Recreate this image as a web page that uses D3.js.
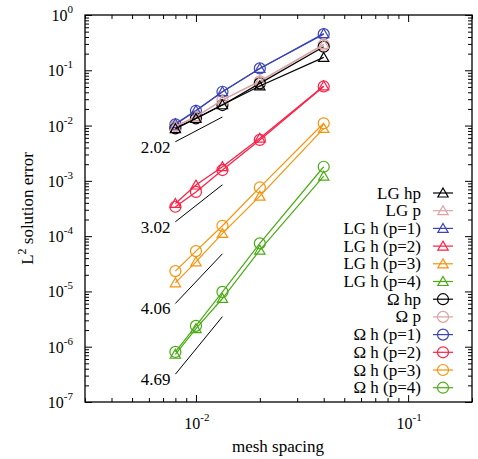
<!DOCTYPE html>
<html>
<head>
<meta charset="utf-8">
<script src="https://cdn.jsdelivr.net/npm/d3@7"></script>
<style>
  body{ margin:0; background:#fff }
  svg{ display:block; font-family:"Liberation Serif","Times New Roman",serif }
  .domain{ stroke:#000 }
</style>
</head>
<body>
<svg id="chart" width="478" height="459"></svg>
<script>
// mesh spacings (1/125 .. 1/25)
const meshH = [0.008, 0.01, 0.013333, 0.02, 0.04]

// L2 errors, one array per series
const lgHp   = [0.0088, 0.0134, 0.0238, 0.052, 0.171]
const lgP    = [0.0097, 0.0145, 0.029, 0.064, 0.295]
const lgH1   = [0.0108, 0.0188, 0.041, 0.108, 0.46]
const lgH2   = [3.9e-4, 8.4e-4, 1.8e-3, 5.9e-3, 0.052]
const lgH3   = [1.43e-5, 3.43e-5, 1.12e-4, 5.3e-4, 8.9e-3]
const lgH4   = [7.3e-7, 2.13e-6, 7.45e-6, 5.6e-5, 1.22e-3]
const omHp   = [0.0089, 0.0135, 0.0235, 0.058, 0.267]
const omP    = [0.0097, 0.0145, 0.029, 0.063, 0.29]
const omH1   = [0.0105, 0.0185, 0.0409, 0.108, 0.45]
const omH2   = [3.4e-4, 6.3e-4, 1.57e-3, 5.5e-3, 0.051]
const omH3   = [2.33e-5, 5.36e-5, 1.54e-4, 7.6e-4, 0.011]
const omH4   = [8.05e-7, 2.38e-6, 9.8e-6, 7.4e-5, 1.8e-3]

// convergence-rate guide lines: [x0,y0] -> [x1,y1] with label
const rateLabels = ['2.02', '3.02', '4.06', '4.69']
const rateStart  = [[0.008, 5.1e-3], [0.008, 1.82e-4], [0.008, 6.05e-6], [0.008, 3.18e-7]]
const rateEnd    = [[0.01333, 1.43e-2], [0.01333, 8.5e-4], [0.01333, 4.8e-5], [0.01333, 3.5e-6]]

const series = [
  { name:'LG hp',        vals: lgHp, color:'#000000', mk:'tri' },
  { name:'LG p',         vals: lgP,  color:'#dca3a3', mk:'tri' },
  { name:'LG h (p=1)',   vals: lgH1, color:'#3a44b4', mk:'tri' },
  { name:'LG h (p=2)',   vals: lgH2, color:'#ff1f45', mk:'tri' },
  { name:'LG h (p=3)',   vals: lgH3, color:'#f7920a', mk:'tri' },
  { name:'LG h (p=4)',   vals: lgH4, color:'#4aab14', mk:'tri' },
  { name:'\u03A9 hp',    vals: omHp, color:'#000000', mk:'circ' },
  { name:'\u03A9 p',     vals: omP,  color:'#dca3a3', mk:'circ' },
  { name:'\u03A9 h (p=1)', vals: omH1, color:'#3a44b4', mk:'circ' },
  { name:'\u03A9 h (p=2)', vals: omH2, color:'#ff1f45', mk:'circ' },
  { name:'\u03A9 h (p=3)', vals: omH3, color:'#f7920a', mk:'circ' },
  { name:'\u03A9 h (p=4)', vals: omH4, color:'#4aab14', mk:'circ' },
]

const L = 85, R = 472, T = 15, B = 402
const svg = d3.select('#chart')
const x = d3.scaleLog().domain([0.003, 0.2]).range([L, R])
const y = d3.scaleLog().domain([1e-7, 1]).range([B, T])

// tick values
const xMajor = [0.01, 0.1]
const xMinor = []
for(const d of [0.001, 0.01, 0.1]) for(let k=2;k<=9;k++){ const v=k*d; if(v>=0.003 && v<=0.2) xMinor.push(v) }
const yMajor = d3.range(-7, 1).map(e => Math.pow(10, e))
const yMinor = []
for(let e=-7;e<0;e++) for(let k=2;k<=9;k++) yMinor.push(k*Math.pow(10, e))

const gAx = svg.append('g')
function ticks(axisFn, scale, vals, len, tx){
  const a = axisFn(scale).tickValues(vals).tickSize(len).tickFormat('')
  const g = gAx.append('g').attr('transform', tx).call(a)
  g.select('.domain').remove()
  g.selectAll('line').attr('stroke', '#000').attr('stroke-width', 1)
}
// inward ticks on all four sides
ticks(d3.axisBottom, x, xMajor, -7, `translate(0,${B})`)
ticks(d3.axisBottom, x, xMinor, -4, `translate(0,${B})`)
ticks(d3.axisTop,    x, xMajor, -7, `translate(0,${T})`)
ticks(d3.axisTop,    x, xMinor, -4, `translate(0,${T})`)
ticks(d3.axisLeft,   y, yMajor, -7, `translate(${L},0)`)
ticks(d3.axisLeft,   y, yMinor, -4, `translate(${L},0)`)
ticks(d3.axisRight,  y, yMajor, -7, `translate(${R},0)`)
ticks(d3.axisRight,  y, yMinor, -4, `translate(${R},0)`)

gAx.append('rect').attr('x', L).attr('y', T).attr('width', R-L).attr('height', B-T)
  .attr('fill', 'none').attr('stroke', '#000').attr('stroke-width', 1.3)

// tick labels 10^n
const expo = v => Math.round(Math.log10(v))
const yl = svg.append('g').attr('font-size', 16).attr('text-anchor', 'end')
yMajor.forEach(v => {
  const t = yl.append('text').attr('x', 73).attr('y', y(v) + 6)
  t.append('tspan').text('10')
  t.append('tspan').attr('dy', -8).attr('font-size', 11).text(expo(v))
})
const xl = svg.append('g').attr('font-size', 16).attr('text-anchor', 'middle')
xMajor.forEach(v => {
  const t = xl.append('text').attr('x', x(v) + 1).attr('y', 429)
  t.append('tspan').text('10')
  t.append('tspan').attr('dy', -8).attr('font-size', 11).text(expo(v))
})

// axis titles
svg.append('text').attr('x', 278).attr('y', 452).attr('text-anchor', 'middle')
  .attr('font-size', 17).text('mesh spacing')
const yt = svg.append('text').attr('transform', `translate(33,${(T+B)/2}) rotate(-90)`)
  .attr('text-anchor', 'middle').attr('font-size', 17)
yt.append('tspan').text('L')
yt.append('tspan').attr('dy', -7).attr('font-size', 12).text('2')
yt.append('tspan').attr('dy', 7).text(' solution error')

// rate guide lines
const gRate = svg.append('g')
rateLabels.forEach((lab, i) => {
  gRate.append('line')
    .attr('x1', x(rateStart[i][0])).attr('y1', y(rateStart[i][1]))
    .attr('x2', x(rateEnd[i][0])).attr('y2', y(rateEnd[i][1]))
    .attr('stroke', '#000').attr('stroke-width', 1)
  gRate.append('text').attr('x', x(rateStart[i][0]) - 5).attr('y', y(rateStart[i][1]) + 11)
    .attr('text-anchor', 'end').attr('font-size', 17).text(lab)
})

const triPath = d3.symbol().type(d3.symbolTriangle).size(46)()
function marker(g, kind, color, cx, cy){
  if(kind==='tri') g.append('path').attr('d', triPath).attr('transform', `translate(${cx},${cy+1})`)
    .attr('fill', 'none').attr('stroke', color).attr('stroke-width', 1.2)
  else g.append('circle').attr('cx', cx).attr('cy', cy).attr('r', 5.5)
    .attr('fill', 'none').attr('stroke', color).attr('stroke-width', 1.2)
}

// series lines and markers (draw in reverse so LG hp ends on top)
const gData = svg.append('g')
const line = d3.line().x((d, i) => x(meshH[i])).y(d => y(d))
series.slice().reverse().forEach(s => {
  const g = gData.append('g')
  g.append('path').attr('d', line(s.vals)).attr('fill', 'none')
    .attr('stroke', s.color).attr('stroke-width', 1.2)
  s.vals.forEach((v, i) => marker(g, s.mk, s.color, x(meshH[i]), y(v)))
})

// legend
const gLeg = svg.append('g').attr('font-size', 17)
series.forEach((s, i) => {
  const ry = 193 + i*17.7
  gLeg.append('text').attr('x', 421).attr('y', ry + 5.5).attr('text-anchor', 'end').text(s.name)
  gLeg.append('line').attr('x1', 433).attr('x2', 453).attr('y1', ry).attr('y2', ry)
    .attr('stroke', s.color).attr('stroke-width', 1.2)
  marker(gLeg, s.mk, s.color, 443, ry)
})
</script>
</body>
</html>
